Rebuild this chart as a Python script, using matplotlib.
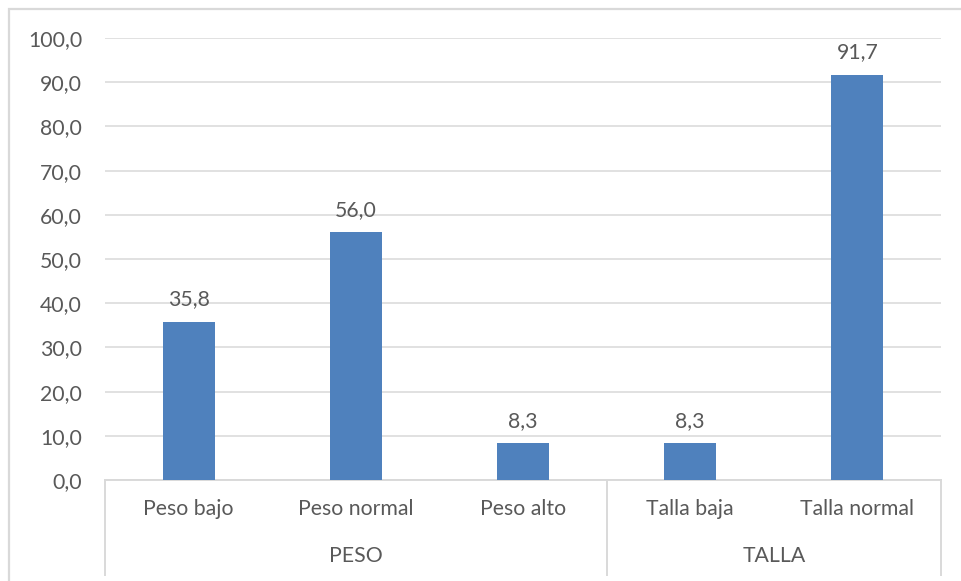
import matplotlib.pyplot as plt
from matplotlib.patches import Rectangle

# percentages by category
categories = ['Peso bajo', 'Peso normal', 'Peso alto', 'Talla baja', 'Talla normal']
values = [35.8, 56.0, 8.3, 8.3, 91.7]
groups = ['PESO', 'TALLA']
group_sizes = [3, 2]

BLUE = '#4F81BD'
GREY_TXT = '#595959'
GRID = '#D9D9D9'
FS = 15.3

plt.rcParams['font.family'] = ['Lato', 'DejaVu Sans']

fig = plt.figure(figsize=(9.61, 5.81), dpi=100)
ax = fig.add_axes([105 / 961, 1 - 480 / 581, (941 - 105) / 961, (480 - 38) / 581])

x = list(range(len(categories)))
ax.bar(x, values, width=0.31, color=BLUE, zorder=3)
for xi, v in zip(x, values):
    ax.annotate(('%.1f' % v).replace('.', ','), (xi, v), xytext=(0, 9),
                textcoords='offset points', ha='center', va='bottom',
                fontsize=FS, color=GREY_TXT)

ax.set_xlim(-0.5, len(categories) - 0.5)
ax.set_ylim(0, 100)
ax.set_yticks(range(0, 101, 10))
ax.set_yticklabels([('%.1f' % t).replace('.', ',') for t in range(0, 101, 10)])
ax.yaxis.grid(True, color=GRID, linewidth=1.1, zorder=0)
ax.tick_params(axis='y', length=0, pad=16.5, labelsize=FS, labelcolor=GREY_TXT)
ax.tick_params(axis='x', length=0, pad=14, labelsize=FS, labelcolor=GREY_TXT)
ax.set_xticks(x)
ax.set_xticklabels(categories)
for side in ['top', 'right', 'left']:
    ax.spines[side].set_visible(False)
ax.spines['bottom'].set_color(GRID)
ax.spines['bottom'].set_linewidth(1.4)

# group dividers and group labels below the axis
tr = ax.get_xaxis_transform()
bounds = [-0.5]
for n in group_sizes:
    bounds.append(bounds[-1] + n)
for b in bounds:
    ax.plot([b, b], [0, -0.215], transform=tr, color=GRID, linewidth=1.4,
            clip_on=False)
for g, lo, hi in zip(groups, bounds[:-1], bounds[1:]):
    ax.text((lo + hi) / 2, -0.172, g, transform=tr, ha='center', va='center',
            fontsize=FS, color=GREY_TXT)

# chart frame
fig.patches.append(Rectangle((9 / 961, -0.05), 1.2, 1 - 9 / 581 + 0.05,
                             transform=fig.transFigure, fill=False,
                             edgecolor=GRID, linewidth=1.6))

fig.savefig('out.png', dpi=100)
